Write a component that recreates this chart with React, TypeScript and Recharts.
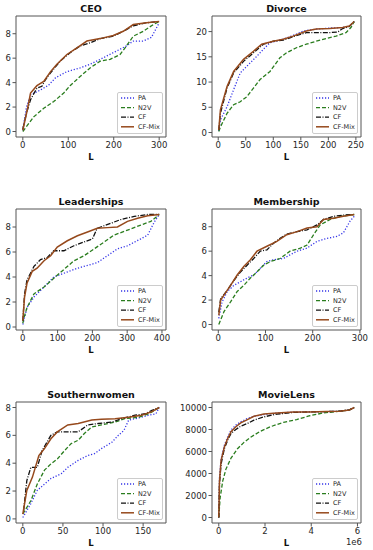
import React from 'react';
import { LineChart, Line, XAxis, YAxis, ReferenceArea } from 'recharts';

type Pt = [number, number];

// ---------- Series definitions ----------
const seriesNames = ['PA', 'N2V', 'CF', 'CF-Mix'];
const seriesColors = ['#3535e8', '#2a7d1e', '#111111', '#96491c'];
const seriesDash = ['1.2 1.8', '4 2', '5 1.5 1 1.5', ''];
const seriesWidth = [1.3, 1.3, 1.3, 1.5];

// ---------- CEO ----------
const ceoPA: Pt[] = [[0,0.1],[8,2.0],[17,3.0],[39,3.4],[57,3.8],[72,4.4],[97,4.9],[126,5.2],[148,5.5],[170,5.9],[199,6.45],[228,7.0],[243,7.4],[265,7.4],[283,7.7],[300,8.9]];
const ceoN2V: Pt[] = [[0,0],[24,1.2],[46,1.9],[68,2.45],[90,3.15],[104,3.75],[126,4.5],[148,5.2],[170,5.75],[192,5.9],[214,6.3],[228,7.0],[243,7.8],[265,8.2],[287,8.75],[300,9]];
const ceoCF: Pt[] = [[0,0.2],[8,1.5],[17,2.6],[31,3.55],[42,3.7],[50,4.25],[61,4.8],[82,5.75],[104,6.45],[126,7.0],[148,7.25],[170,7.6],[199,7.8],[221,8.2],[243,8.65],[272,8.9],[300,9]];
const ceoMix: Pt[] = [[0,0.1],[10,1.8],[17,3.15],[31,3.75],[46,4.1],[61,4.9],[75,5.5],[97,6.3],[119,6.85],[141,7.4],[170,7.6],[199,7.85],[221,8.2],[243,8.75],[272,8.9],[300,9]];
const ceoXTicks = [0, 100, 200, 300];
const ceoYTicks = [0, 2, 4, 6, 8];

// ---------- Divorce ----------
const divPA: Pt[] = [[1,0.3],[4,2.5],[16,5.1],[28,8.5],[40,11.8],[58,13.8],[70,15.1],[82,16.5],[94,17.8],[118,18.5],[142,19.5],[154,20.1],[178,20.5],[202,20.7],[226,20.8],[238,21.1],[247,22]];
const divN2V: Pt[] = [[1,0.2],[4,1.1],[16,3.8],[28,5.5],[40,6.1],[52,7.1],[64,8.8],[76,10.5],[94,12.1],[112,14.8],[124,15.8],[142,16.8],[160,17.5],[178,18.1],[196,18.6],[214,19.1],[232,19.8],[241,20.8],[247,22]];
const divCF: Pt[] = [[1,0.5],[4,3.8],[16,8.8],[28,11.8],[46,14.1],[64,15.8],[82,17.5],[100,18.1],[118,18.3],[136,19],[160,19.8],[178,19.8],[202,19.8],[217,19.9],[226,20.6],[238,21],[247,22]];
const divMix: Pt[] = [[1,0.5],[4,4.5],[16,9.1],[28,12.1],[46,14.5],[64,16.1],[79,17.5],[100,18.1],[118,18.5],[136,19.1],[160,20.1],[178,20.5],[202,20.6],[226,20.8],[238,21.1],[247,22]];
const divXTicks = [0, 50, 100, 150, 200, 250];
const divYTicks = [0, 5, 10, 15, 20];

// ---------- Leaderships ----------
const leaPA: Pt[] = [[0,0.2],[12,1.55],[32,2.4],[61,3.2],[89,4.0],[118,4.3],[157,4.7],[195,5.0],[214,5.15],[243,5.7],[272,6.25],[301,6.5],[339,7.05],[359,7.35],[378,8.4],[392,9]];
const leaN2V: Pt[] = [[0,0.3],[3,0.7],[12,1.55],[32,2.65],[61,3.2],[89,3.9],[118,4.6],[147,5.3],[176,5.7],[205,6.25],[234,6.8],[262,7.35],[301,7.75],[339,8.15],[368,8.45],[392,9]];
const leaCF: Pt[] = [[0,0.5],[5,2.65],[12,3.75],[32,4.85],[51,5.4],[70,5.55],[89,6.1],[118,6.1],[147,6.5],[176,6.8],[200,7.05],[214,7.9],[253,8.3],[282,8.6],[320,8.85],[359,9.0],[392,9]];
const leaMix: Pt[] = [[0,0.5],[5,2.4],[12,3.5],[27,4.45],[41,4.7],[61,5.3],[80,5.7],[99,6.4],[128,6.9],[157,7.3],[186,7.6],[214,7.9],[243,7.95],[272,8.0],[301,8.45],[330,8.7],[359,8.9],[392,9]];
const leaXTicks = [0, 100, 200, 300, 400];
const leaYTicks = [0, 2, 4, 6, 8];

// ---------- Membership ----------
const memPA: Pt[] = [[1,0.5],[8,1.85],[19,2.7],[33,3.2],[47,3.5],[61,3.8],[75,4.05],[89,4.6],[103,5.15],[117,5.3],[138,5.4],[152,5.7],[167,6.0],[188,6.25],[209,6.8],[230,7.05],[251,7.2],[265,7.5],[279,8.45],[288,8.85]];
const memN2V: Pt[] = [[1,0],[12,1.05],[26,1.85],[40,2.7],[54,3.2],[68,3.8],[82,4.3],[96,4.85],[110,5.15],[131,5.4],[152,6.0],[174,6.25],[188,6.5],[202,7.35],[216,8.15],[237,8.6],[258,8.85],[288,9]];
const memCF: Pt[] = [[1,1.0],[5,2.1],[19,2.8],[33,3.6],[47,4.3],[61,4.85],[75,5.4],[89,6.0],[103,6.1],[117,6.65],[131,7.05],[145,7.4],[167,7.6],[188,7.75],[209,8.15],[223,8.6],[244,8.85],[265,8.95],[288,9]];
const memMix: Pt[] = [[1,0.75],[5,2.0],[12,2.4],[26,3.2],[40,4.05],[54,4.75],[68,5.3],[82,6.0],[103,6.4],[124,6.8],[145,7.35],[167,7.6],[188,7.9],[209,8.0],[223,8.6],[244,8.7],[265,8.85],[288,9]];
const memXTicks = [0, 100, 200, 300];
const memYTicks = [0, 2, 4, 6, 8];

// ---------- Southernwomen ----------
const swPA: Pt[] = [[0,0.1],[10,1.1],[18,2.05],[27,2.5],[35,2.9],[48,3.25],[56,3.7],[69,4.2],[81,4.55],[90,4.7],[98,5.05],[111,5.5],[119,6.0],[126,6.35],[132,7.1],[148,7.3],[157,7.45],[166,7.55],[170,8.0]];
const swN2V: Pt[] = [[0,0.35],[10,1.3],[18,2.5],[27,3.5],[35,3.95],[43,4.3],[52,4.9],[60,5.4],[69,5.65],[77,6.15],[86,6.6],[98,6.75],[115,6.95],[127,7.2],[144,7.3],[157,7.55],[170,8.0]];
const swCF: Pt[] = [[1,0.6],[5,2.75],[10,3.7],[18,3.7],[24,4.9],[35,6.0],[43,6.25],[56,6.25],[69,6.25],[81,6.75],[94,6.85],[111,6.95],[123,7.2],[140,7.45],[153,7.55],[161,7.8],[170,8.0]];
const swMix: Pt[] = [[0,0.35],[5,2.05],[12,3.0],[20,4.55],[27,5.05],[35,5.75],[43,6.25],[56,6.75],[69,6.85],[86,7.1],[98,7.15],[115,7.2],[132,7.3],[148,7.45],[161,7.7],[170,8.0]];
const swXTicks = [0, 50, 100, 150];
const swYTicks = [0, 2, 4, 6, 8];

// ---------- MovieLens ----------
const mlPA: Pt[] = [[0,0],[30000,3600],[100000,5300],[240000,6550],[380000,7300],[530000,7950],[740000,8400],[950000,8700],[1240000,9000],[1520000,9200],[1950000,9350],[2520000,9500],[3230000,9580],[3940000,9600],[4650000,9630],[5220000,9660],[5650000,9780],[5860000,10000]];
const mlN2V: Pt[] = [[0,0],[60000,1800],[170000,3300],[310000,4400],[530000,5400],[810000,6250],[1100000,6850],[1380000,7300],[1810000,7850],[2230000,8250],[2800000,8650],[3370000,8900],[3940000,9250],[4510000,9500],[5080000,9630],[5650000,9780],[5860000,10000]];
const mlCF: Pt[] = [[0,0],[30000,3000],[100000,4850],[240000,6250],[380000,7000],[530000,7650],[740000,8000],[950000,8300],[1240000,8550],[1520000,8850],[1950000,9150],[2520000,9400],[3230000,9550],[3940000,9600],[4650000,9630],[5220000,9660],[5650000,9780],[5860000,10000]];
const mlMix: Pt[] = [[0,0],[30000,3300],[100000,5200],[240000,6400],[380000,7150],[530000,7800],[740000,8250],[950000,8600],[1240000,8900],[1520000,9200],[1950000,9400],[2520000,9500],[3230000,9580],[3940000,9600],[4650000,9630],[5220000,9660],[5650000,9780],[5860000,10000]];
const mlXTicks = [0, 2000000, 4000000, 6000000];
const mlYTicks = [0, 2000, 4000, 6000, 8000, 10000];

const FONT = '"DejaVu Sans", sans-serif';
const TEXT = '#262626';
const FRAME = '#555555';

// matplotlib-like 5% margins
function pad(vals: number[]): [number, number] {
  const lo = Math.min(...vals);
  const hi = Math.max(...vals);
  const m = (hi - lo) * 0.05;
  return [lo - m, hi + m];
}

interface PanelProps {
  title: string;
  series: Pt[][];
  xTicks: number[];
  yTicks: number[];
  left: number;
  top: number;
  col: number;
  xFmt?: (v: number) => string;
  offsetText?: string;
}

const PLOT_TOP = 16;
const PLOT_H = 121;
const X_AXIS_H = 30;

function Panel({ title, series, xTicks, yTicks, left, top, col, xFmt, offsetText }: PanelProps) {
  const xs = series.flat().map((p) => p[0]);
  const ys = series.flat().map((p) => p[1]);
  const xDom = pad(xs);
  const yDom = pad(ys);
  const yAxisW = col === 0 ? 16 : 36;
  const width = col === 0 ? 186 : 197;
  const rightM = col === 0 ? 20 : 12;
  const height = 190;
  const plotLeft = yAxisW;
  const plotW = width - yAxisW - rightM;
  const plotBottom = PLOT_TOP + PLOT_H;
  const bottomM = height - PLOT_TOP - PLOT_H - X_AXIS_H;
  const tickStyle = { fontSize: 8.5, fill: TEXT, fontFamily: FONT };

  return (
    <div style={{ position: 'absolute', left, top, width, height }}>
      <div
        style={{
          position: 'absolute',
          left: plotLeft,
          width: plotW,
          top: PLOT_TOP - 13,
          lineHeight: '12px',
          fontSize: 9.5,
          fontWeight: 'bold',
          fontFamily: FONT,
          color: '#111',
          textAlign: 'center',
        }}
      >
        {title}
      </div>
      <LineChart width={width} height={height} margin={{ top: PLOT_TOP, right: rightM, bottom: bottomM, left: 0 }}>
        <XAxis
          type="number"
          dataKey="L"
          domain={xDom}
          ticks={xTicks}
          interval={0}
          allowDataOverflow
          tickFormatter={xFmt}
          height={X_AXIS_H}
          tickSize={3.5}
          tickMargin={1.5}
          axisLine={false}
          tickLine={{ stroke: FRAME }}
          tick={tickStyle}
          label={{ value: 'L', position: 'insideBottom', offset: 7, style: { fontSize: 8.5, fontWeight: 'bold', fill: '#111', fontFamily: FONT } }}
        />
        <YAxis
          type="number"
          domain={yDom}
          ticks={yTicks}
          interval={0}
          allowDataOverflow
          width={yAxisW}
          tickSize={3.5}
          tickMargin={1.5}
          axisLine={false}
          tickLine={{ stroke: FRAME }}
          tick={tickStyle}
        />
        <ReferenceArea
          x1={xDom[0]}
          x2={xDom[1]}
          y1={yDom[0]}
          y2={yDom[1]}
          fill="none"
          fillOpacity={0}
          stroke={FRAME}
          strokeWidth={1}
          ifOverflow="visible"
        />
        {series.map((pts, i) => (
          <Line
            key={seriesNames[i]}
            data={pts.map(([L, v]) => ({ L, v }))}
            dataKey="v"
            name={seriesNames[i]}
            type="linear"
            dot={false}
            activeDot={false}
            isAnimationActive={false}
            stroke={seriesColors[i]}
            strokeWidth={seriesWidth[i]}
            strokeDasharray={seriesDash[i] || undefined}
          />
        ))}
      </LineChart>
      {/* legend */}
      <div
        style={{
          position: 'absolute',
          left: plotLeft + plotW - 3 - 46,
          top: plotBottom - 3 - 42,
          width: 46,
          height: 42,
          border: '1px solid #cccccc',
          borderRadius: 2,
          background: 'rgba(255,255,255,0.85)',
          boxSizing: 'border-box',
        }}
      >
        <svg width={44} height={40} style={{ display: 'block' }}>
          {seriesNames.map((n, i) => {
            const cy = 5 + i * 9.6;
            return (
              <g key={n}>
                <line x1={3} x2={16} y1={cy} y2={cy} stroke={seriesColors[i]} strokeWidth={seriesWidth[i]} strokeDasharray={seriesDash[i] || undefined} />
                <text x={20} y={cy} dy="0.35em" fontSize={6.5} fill={TEXT} fontFamily={FONT}>
                  {n}
                </text>
              </g>
            );
          })}
        </svg>
      </div>
      {offsetText ? (
        <div
          style={{
            position: 'absolute',
            left: plotLeft + plotW - 30,
            width: 31,
            top: plotBottom + 13,
            lineHeight: '12px',
            fontSize: 8.5,
            fontFamily: FONT,
            color: TEXT,
            textAlign: 'right',
          }}
        >
          {offsetText}
        </div>
      ) : null}
    </div>
  );
}

export default function App() {
  return (
    <div style={{ position: 'absolute', left: 0, top: 0, width: 373, height: 550, background: '#fff', overflow: 'hidden' }}>
      <Panel title="CEO" series={[ceoPA, ceoN2V, ceoCF, ceoMix]} xTicks={ceoXTicks} yTicks={ceoYTicks} left={0} top={0} col={0} />
      <Panel title="Divorce" series={[divPA, divN2V, divCF, divMix]} xTicks={divXTicks} yTicks={divYTicks} left={176} top={0} col={1} />
      <Panel title="Leaderships" series={[leaPA, leaN2V, leaCF, leaMix]} xTicks={leaXTicks} yTicks={leaYTicks} left={0} top={193} col={0} />
      <Panel title="Membership" series={[memPA, memN2V, memCF, memMix]} xTicks={memXTicks} yTicks={memYTicks} left={176} top={193} col={1} />
      <Panel title="Southernwomen" series={[swPA, swN2V, swCF, swMix]} xTicks={swXTicks} yTicks={swYTicks} left={0} top={386} col={0} />
      <Panel
        title="MovieLens"
        series={[mlPA, mlN2V, mlCF, mlMix]}
        xTicks={mlXTicks}
        yTicks={mlYTicks}
        left={176}
        top={386}
        col={1}
        xFmt={(v: number) => String(v / 1000000)}
        offsetText="1e6"
      />
    </div>
  );
}
